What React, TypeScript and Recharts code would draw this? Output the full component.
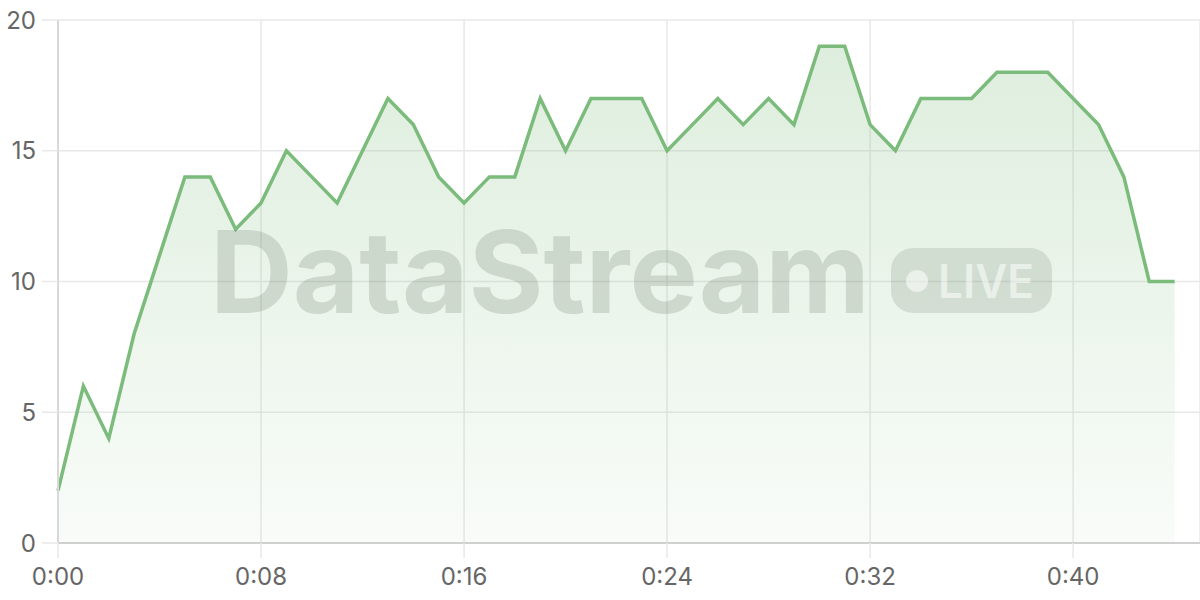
import { AreaChart, Area, XAxis, YAxis, CartesianGrid } from "recharts";

const minutes = [
  0, 1, 2, 3, 4, 5, 6, 7, 8, 9, 10, 11, 12, 13, 14, 15, 16, 17, 18, 19, 20, 21,
  22, 23, 24, 25, 26, 27, 28, 29, 30, 31, 32, 33, 34, 35, 36, 37, 38, 39, 40,
  41, 42, 43, 44,
];
const values = [
  2, 6, 4, 8, 11, 14, 14, 12, 13, 15, 14, 13, 15, 17, 16, 14, 13, 14, 14, 17,
  15, 17, 17, 17, 15, 16, 17, 16, 17, 16, 19, 19, 16, 15, 17, 17, 17, 18, 18,
  18, 17, 16, 14, 10, 10,
];
const xTicks = [0, 8, 16, 24, 32, 40];
const yTicks = [0, 5, 10, 15, 20];

const data = minutes.map((m, i) => ({ t: m, value: values[i] }));

const LINE = "#7bbb7b";
const FONT = "Inter, 'Noto Sans', sans-serif";

const fmtTime = (m: number) => `0:${String(m).padStart(2, "0")}`;

export default function App() {
  return (
    <div style={{ position: "absolute", left: 0, top: 0, width: 1200, height: 600 }}>
      <AreaChart
        width={1200}
        height={600}
        data={data}
        margin={{ top: 20, right: 0, bottom: 0, left: 0 }}
      >
        <defs>
          <linearGradient id="fillGreen" x1="0" y1="0" x2="0" y2="1">
            <stop offset="0%" stopColor={LINE} stopOpacity={0.42} />
            <stop offset="100%" stopColor={LINE} stopOpacity={0.08} />
          </linearGradient>
        </defs>
        <CartesianGrid stroke="#e8e8e8" strokeWidth={1.5} />
        <XAxis
          dataKey="t"
          type="number"
          domain={[0, 45]}
          ticks={xTicks}
          tickFormatter={fmtTime}
          height={57}
          tickSize={15}
          tickLine={{ stroke: "#e8e8e8", strokeWidth: 1.5 }}
          axisLine={{ stroke: "#d0d0d0", strokeWidth: 2 }}
          tick={{ fill: "#666", fontSize: 24, fontFamily: FONT }}
          tickMargin={10}
        />
        <YAxis
          domain={[0, 20]}
          ticks={yTicks}
          width={58}
          tickSize={16}
          tickLine={{ stroke: "#e8e8e8", strokeWidth: 1.5 }}
          axisLine={{ stroke: "#d8d8d8", strokeWidth: 2 }}
          tick={{ fill: "#666", fontSize: 24, fontFamily: FONT }}
          tickMargin={6}
        />
        <Area
          type="linear"
          dataKey="value"
          stroke={LINE}
          strokeWidth={3.5}
          fill="url(#fillGreen)"
          isAnimationActive={false}
          dot={false}
          activeDot={false}
        />
      </AreaChart>
      <svg
        width={1200}
        height={600}
        style={{ position: "absolute", left: 0, top: 0, pointerEvents: "none" }}
      >
        <text
          x={210}
          y={313}
          fontFamily={FONT}
          fontWeight={700}
          fontSize={114}
          textLength={660}
          lengthAdjust="spacingAndGlyphs"
          fill="rgba(90,105,90,0.2)"
        >
          DataStream
        </text>
        <rect x={891} y={248} width={161} height={65} rx={22} fill="rgba(90,105,90,0.17)" />
        <circle cx={917} cy={281} r={11} fill="rgba(255,255,255,0.55)" />
        <text
          x={938}
          y={298}
          fontFamily={FONT}
          fontWeight={600}
          fontSize={46}
          textLength={96}
          lengthAdjust="spacingAndGlyphs"
          fill="rgba(255,255,255,0.55)"
        >
          LIVE
        </text>
      </svg>
    </div>
  );
}
